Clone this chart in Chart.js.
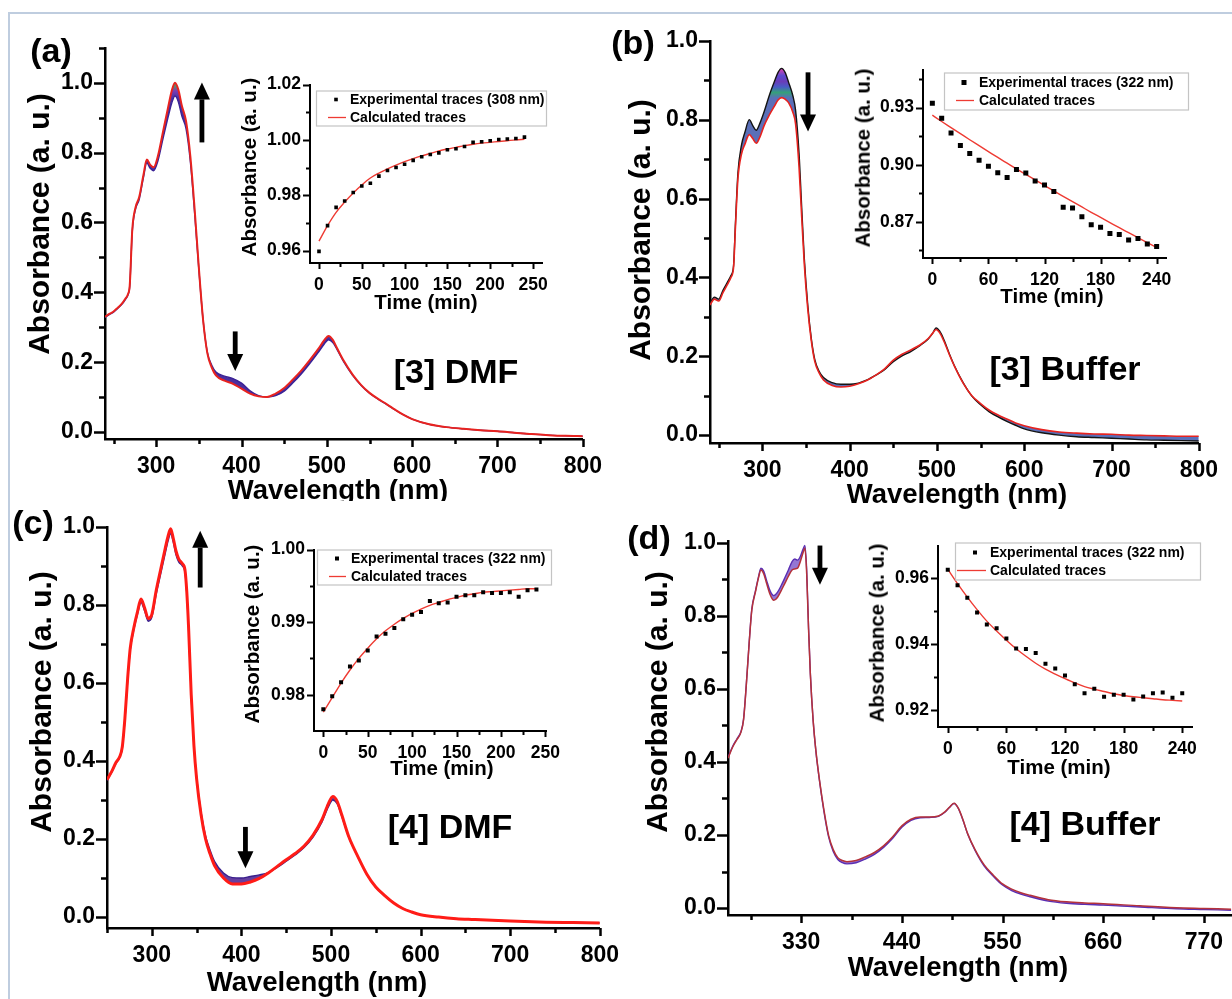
<!DOCTYPE html>
<html>
<head>
<meta charset="utf-8">
<title>UV-vis spectra and kinetics</title>
<script src="https://cdn.jsdelivr.net/npm/chart.js@4.4.1/dist/chart.umd.min.js"></script>
<style>
  html, body { margin: 0; padding: 0; background: #fff; overflow: hidden; }
  #fig { position: relative; width: 1232px; height: 999px; overflow: hidden; }
  #fig canvas { position: absolute; }
  .frame { position: absolute; left: 8px; top: 12px; width: 1300px; height: 1100px;
           border-top: 2px solid #bfcddf; border-left: 2px solid #bfcddf; }
  .txt { position: absolute; font-family: 'Liberation Sans', Arial, sans-serif; font-weight: bold;
         line-height: 1; white-space: nowrap; color: #000; transform: translate(-50%, -50%); }
  .rot { transform: translate(-50%, -50%) rotate(-90deg); }
  .panel, .tag { font-size: 34px; }
  .ytl { font-size: 30px; }
  .xtl { font-size: 27.5px; }
  .itl { font-size: 20.5px; }
  #cC { background: #fff; }
</style>
</head>
<body>
<div id="fig">
  <div class="frame"></div>
  <canvas id="cA"></canvas>
  <canvas id="cB"></canvas>
  <div class="txt xtl" style="left:338px; top:490px">Wavelength (nm)</div>
  <div class="txt xtl" style="left:957px; top:494px">Wavelength (nm)</div>
  <canvas id="cC"></canvas>
  <canvas id="cD"></canvas>
  <canvas id="iA"></canvas>
  <canvas id="iB"></canvas>
  <canvas id="iC"></canvas>
  <canvas id="iD"></canvas>

  <div class="txt ytl rot" style="left:39px; top:224px">Absorbance (a. u.)</div>
  <div class="txt ytl rot" style="left:640px; top:230px">Absorbance (a. u.)</div>
  <div class="txt ytl rot" style="left:41px; top:702px">Absorbance (a. u.)</div>
  <div class="txt ytl rot" style="left:657px; top:702px">Absorbance (a. u.)</div>
  <div class="txt xtl" style="left:317px; top:982px">Wavelength (nm)</div>
  <div class="txt xtl" style="left:958px; top:967px">Wavelength (nm)</div>

  <div class="txt itl rot" style="left:249px; top:167px">Absorbance (a. u.)</div>
  <div class="txt itl" style="left:426px; top:302px">Time (min)</div>
  <div class="txt itl rot" style="left:863px; top:158px">Absorbance (a. u.)</div>
  <div class="txt itl" style="left:1052px; top:296px">Time (min)</div>
  <div class="txt itl rot" style="left:252px; top:634px">Absorbance (a. u.)</div>
  <div class="txt itl" style="left:442px; top:768px">Time (min)</div>
  <div class="txt itl rot" style="left:877px; top:633px">Absorbance (a. u.)</div>
  <div class="txt itl" style="left:1059px; top:767px">Time (min)</div>

  <div class="txt panel" style="left:51px; top:50px">(a)</div>
  <div class="txt panel" style="left:633px; top:42px">(b)</div>
  <div class="txt panel" style="left:33px; top:522px">(c)</div>
  <div class="txt panel" style="left:649px; top:537px">(d)</div>
  <div class="txt tag" style="left:456px; top:371px">[3] DMF</div>
  <div class="txt tag" style="left:1065px; top:368px">[3] Buffer</div>
  <div class="txt tag" style="left:450px; top:826px">[4] DMF</div>
  <div class="txt tag" style="left:1085px; top:823px">[4] Buffer</div>
</div>

<script>
// ---- spectra: wavelength grids (nm) and first / last scans ----
const wlA = [240,245,250,255,260,264,267,269,272,276,
  280,285,289,293,297,302,308,314,318,322,
  326,330,335,340,345,350,355,360,365,370,
  380,390,400,410,420,430,440,450,460,470,
  480,490,497,502,507,512,520,530,540,550,
  560,570,580,590,600,620,640,660,680,700,
  720,740,760,780,800];
const aLast = [0.330,0.338,0.345,0.356,0.368,0.382,0.395,0.420,0.580,0.645,
  0.672,0.735,0.780,0.765,0.758,0.790,0.860,0.930,0.975,1.000,
  0.980,0.935,0.890,0.790,0.640,0.470,0.320,0.225,0.185,0.162,
  0.147,0.138,0.124,0.110,0.102,0.100,0.110,0.126,0.150,0.176,
  0.206,0.238,0.263,0.275,0.264,0.240,0.203,0.165,0.135,0.112,
  0.095,0.080,0.064,0.049,0.037,0.022,0.014,0.009,0.005,0.002,
  -0.002,-0.006,-0.009,-0.011,-0.012];
const aFirst = [0.328,0.336,0.343,0.354,0.366,0.380,0.393,0.418,0.575,0.640,
  0.665,0.728,0.770,0.755,0.748,0.776,0.840,0.902,0.940,0.962,
  0.945,0.905,0.868,0.775,0.628,0.465,0.320,0.228,0.192,0.172,
  0.160,0.153,0.140,0.118,0.104,0.100,0.104,0.117,0.140,0.166,
  0.196,0.228,0.252,0.264,0.256,0.236,0.200,0.163,0.134,0.111,
  0.094,0.079,0.063,0.049,0.037,0.022,0.014,0.009,0.005,0.002,
  -0.002,-0.006,-0.009,-0.011,-0.012];

const wlB = [240,245,250,255,260,264,267,269,272,276,
  280,285,289,293,297,302,308,314,318,322,
  326,330,335,338,342,345,348,352,356,360,
  365,370,380,390,400,410,420,430,440,450,
  460,470,480,490,495,499,503,508,515,520,
  530,540,550,560,570,580,590,600,620,640,
  660,680,700,720,740,760,780,800];
const bLast = [0.330,0.345,0.340,0.362,0.382,0.400,0.425,0.520,0.650,0.712,
  0.738,0.762,0.752,0.740,0.755,0.785,0.812,0.835,0.850,0.856,
  0.852,0.843,0.818,0.790,0.680,0.555,0.435,0.320,0.240,0.187,
  0.158,0.140,0.126,0.122,0.124,0.130,0.139,0.152,0.168,0.190,
  0.205,0.216,0.228,0.245,0.258,0.268,0.260,0.238,0.200,0.175,
  0.132,0.100,0.080,0.063,0.051,0.041,0.031,0.024,0.014,0.008,
  0.005,0.003,0.002,0.000,-0.001,-0.002,-0.003,-0.003];
const bFirst = [0.335,0.350,0.345,0.368,0.388,0.405,0.430,0.530,0.665,0.735,
  0.768,0.800,0.785,0.773,0.790,0.820,0.862,0.898,0.920,0.930,
  0.920,0.895,0.860,0.825,0.715,0.580,0.450,0.330,0.246,0.192,
  0.162,0.146,0.133,0.129,0.129,0.132,0.140,0.152,0.166,0.186,
  0.201,0.212,0.226,0.244,0.258,0.272,0.264,0.242,0.202,0.176,
  0.133,0.099,0.077,0.059,0.046,0.035,0.025,0.016,0.006,0.000,
  -0.004,-0.006,-0.008,-0.010,-0.012,-0.013,-0.014,-0.015];

const wlC = [250,255,260,264,267,270,273,276,280,284,
  288,292,296,300,305,310,315,318,321,324,
  327,330,334,337,339,341,344,347,350,355,
  360,365,370,380,390,400,410,420,430,440,
  450,460,470,480,490,497,502,507,512,520,
  530,540,550,560,570,580,590,600,620,640,
  660,680,700,740,770,800];
const cLast = [0.352,0.372,0.396,0.410,0.435,0.510,0.610,0.690,0.742,0.782,
  0.815,0.792,0.765,0.775,0.838,0.892,0.945,0.975,0.995,0.970,
  0.938,0.918,0.906,0.890,0.835,0.745,0.570,0.440,0.355,0.262,
  0.200,0.162,0.132,0.100,0.085,0.085,0.090,0.099,0.113,0.130,
  0.147,0.163,0.182,0.210,0.250,0.290,0.309,0.296,0.262,0.205,
  0.155,0.110,0.077,0.055,0.036,0.022,0.013,0.006,0.000,-0.004,
  -0.006,-0.008,-0.010,-0.013,-0.014,-0.015];
const cFirst = [0.350,0.370,0.394,0.408,0.432,0.505,0.605,0.685,0.737,0.776,
  0.806,0.784,0.758,0.768,0.828,0.880,0.932,0.962,0.982,0.960,
  0.928,0.910,0.900,0.884,0.830,0.740,0.568,0.440,0.358,0.268,
  0.208,0.172,0.143,0.113,0.101,0.100,0.104,0.108,0.114,0.127,
  0.143,0.159,0.178,0.205,0.244,0.282,0.300,0.290,0.258,0.203,
  0.154,0.109,0.076,0.054,0.036,0.022,0.013,0.006,0.000,-0.004,
  -0.006,-0.008,-0.010,-0.013,-0.014,-0.015];

const wlD = [250,255,260,264,267,270,273,276,280,283,
  286,289,292,296,300,304,308,312,316,320,
  323,326,329,332,334,336,338,340,343,346,
  350,355,360,365,370,375,380,390,400,410,
  420,430,440,450,460,470,480,487,492,497,
  502,507,512,520,530,540,550,560,570,580,
  600,620,640,660,700,740,770,800];
const dLast = [0.410,0.440,0.462,0.480,0.515,0.610,0.720,0.815,0.865,0.900,
  0.925,0.915,0.890,0.858,0.842,0.850,0.868,0.888,0.908,0.925,
  0.928,0.930,0.948,0.972,0.985,0.915,0.765,0.640,0.515,0.432,
  0.350,0.266,0.198,0.160,0.138,0.130,0.127,0.130,0.140,0.152,
  0.170,0.195,0.225,0.243,0.249,0.249,0.252,0.263,0.276,0.287,
  0.272,0.240,0.203,0.160,0.118,0.090,0.066,0.052,0.042,0.035,
  0.023,0.017,0.014,0.012,0.006,0.001,-0.001,-0.003];
const dFirst = [0.412,0.442,0.464,0.482,0.517,0.612,0.722,0.818,0.868,0.903,
  0.930,0.922,0.898,0.868,0.855,0.864,0.882,0.903,0.925,0.948,
  0.955,0.952,0.962,0.982,0.992,0.925,0.770,0.642,0.515,0.430,
  0.348,0.262,0.194,0.155,0.133,0.124,0.121,0.124,0.134,0.147,
  0.166,0.191,0.221,0.240,0.247,0.248,0.251,0.262,0.275,0.286,
  0.271,0.239,0.202,0.158,0.115,0.087,0.063,0.048,0.038,0.031,
  0.019,0.013,0.010,0.008,0.003,-0.002,-0.004,-0.006];

// ---- kinetics at the band maximum ----
const timeMin = [0,10,20,30,40,50,60,70,80,90,100,110,120,130,140,150,160,170,180,190,200,210,220,230,240];
const aExp = [0.9597,0.9690,0.9756,0.9779,0.9810,0.9833,0.9843,0.9869,0.9889,0.9900,0.9912,0.9926,0.9939,
  0.9947,0.9953,0.9964,0.9968,0.9976,0.9991,0.9993,0.9997,1.0001,1.0003,1.0005,1.0010];
const aFit = [0.9634,0.9690,0.9738,0.9775,0.9808,0.9837,0.9862,0.9880,0.9895,0.9909,0.9921,0.9932,0.9942,
  0.9951,0.9960,0.9967,0.9973,0.9979,0.9984,0.9988,0.9991,0.9994,0.9997,1.0000,1.0002];
const bExp = [0.9323,0.9244,0.9166,0.9101,0.9059,0.9024,0.8992,0.8958,0.8933,0.8975,0.8956,0.8914,0.8894,
  0.8859,0.8776,0.8773,0.8726,0.8684,0.8672,0.8639,0.8634,0.8605,0.8612,0.8583,0.8570];
const bFit = [0.9260,0.9227,0.9195,0.9163,0.9131,0.9100,0.9069,0.9038,0.9008,0.8978,0.8949,0.8920,0.8891,
  0.8862,0.8834,0.8806,0.8778,0.8750,0.8723,0.8696,0.8669,0.8643,0.8617,0.8591,0.8566];
const cExp = [0.9780,0.9798,0.9817,0.9839,0.9847,0.9861,0.9880,0.9884,0.9892,0.9904,0.9910,0.9914,0.9929,
  0.9926,0.9927,0.9935,0.9937,0.9937,0.9941,0.9940,0.9940,0.9941,0.9935,0.9944,0.9945];
const cFit = [0.9776,0.9796,0.9816,0.9834,0.9850,0.9864,0.9877,0.9888,0.9897,0.9905,0.9912,0.9918,0.9923,
  0.9927,0.9931,0.9934,0.9937,0.9939,0.9941,0.9942,0.9943,0.9944,0.9945,0.9946,0.9946];
const dExp = [0.9626,0.9579,0.9541,0.9496,0.9460,0.9448,0.9417,0.9387,0.9385,0.9373,0.9340,0.9326,0.9305,
  0.9278,0.9251,0.9264,0.9240,0.9246,0.9246,0.9232,0.9241,0.9251,0.9253,0.9237,0.9251];
const dFit = [0.9628,0.9584,0.9543,0.9505,0.9470,0.9440,0.9412,0.9386,0.9363,0.9342,0.9324,0.9309,0.9295,
  0.9282,0.9271,0.9263,0.9256,0.9249,0.9244,0.9240,0.9237,0.9234,0.9231,0.9229,0.9227];

// ---- tick values ----
const absTicks = [0, 0.2, 0.4, 0.6, 0.8, 1.0];
const absMinor = [0.1, 0.3, 0.5, 0.7, 0.9];
const absMinorA = [0.1, 0.3, 0.5, 0.7, 0.9, 1.1];
const wlTicks = [300, 400, 500, 600, 700, 800];
const wlMinor = [250, 350, 450, 550, 650, 750];
const wlTicksD = [330, 440, 550, 660, 770];
const wlMinorD = [275, 385, 495, 605, 715];
const t50 = [0, 50, 100, 150, 200, 250];
const t50Minor = [25, 75, 125, 175, 225];
const t60 = [0, 60, 120, 180, 240];
const t60Minor = [30, 90, 150, 210];

const FONT = "'Liberation Sans', Arial, Helvetica, sans-serif";
Chart.defaults.font.family = FONT;
Chart.defaults.font.weight = 'bold';
Chart.defaults.color = '#000';
Chart.defaults.animation = false;
Chart.defaults.events = [];
Chart.defaults.plugins.legend.display = false;
Chart.defaults.plugins.tooltip.enabled = false;

function pairs(xs, ys) {
  return xs.map((x, i) => ({ x: x, y: ys[i] }));
}

// size the canvas so that the plot area lands on g.x, g.y with size g.w x g.h
function place(id, g) {
  const c = document.getElementById(id);
  c.width = g.axisW + g.w + g.padR;
  c.height = g.padT + g.h + g.axisH;
  c.style.left = (g.x - g.axisW) + 'px';
  c.style.top = (g.y - g.padT) + 'px';
  return c;
}

// band colour that runs through several hues between two absorbance levels
function bandGradient(hi, lo, stops) {
  return ctx => {
    const chart = ctx.chart;
    if (!chart.chartArea || !chart.scales.y) return stops[stops.length - 1];
    const y = chart.scales.y;
    const g = chart.ctx.createLinearGradient(0, y.getPixelForValue(hi), 0, y.getPixelForValue(lo));
    stops.forEach((c, i) => g.addColorStop(i / (stops.length - 1), c));
    return g;
  };
}

// outward tick marks, long for labelled ticks and short for the minor ones
const tickMarks = {
  id: 'tickMarks',
  afterDraw(chart, args, o) {
    const ctx = chart.ctx;
    ctx.save();
    ctx.strokeStyle = '#000';
    ctx.lineWidth = o.width;
    ['x', 'y'].forEach(id => {
      const s = chart.scales[id];
      const spec = o[id];
      const list = spec.major.map(v => [v, spec.len[0]]).concat(spec.minor.map(v => [v, spec.len[1]]));
      list.forEach(([v, len]) => {
        const p = Math.round(s.getPixelForValue(v)) + 0.5;
        ctx.beginPath();
        if (id === 'x') { ctx.moveTo(p, s.top); ctx.lineTo(p, s.top + len); }
        else { ctx.moveTo(s.right, p); ctx.lineTo(s.right - len, p); }
        ctx.stroke();
      });
    });
    ctx.restore();
  }
};

// trend arrows, placed in data units
const arrows = {
  id: 'arrows',
  afterDatasetsDraw(chart, args, o) {
    const { ctx, scales: { x, y } } = chart;
    ctx.save();
    ctx.fillStyle = '#000';
    o.list.forEach(a => {
      const px = x.getPixelForValue(a.x);
      const p0 = y.getPixelForValue(a.from);
      const p1 = y.getPixelForValue(a.to);
      const dir = Math.sign(p1 - p0);
      const head = 17, half = 8;
      const base = p1 - dir * head;
      ctx.fillRect(px - 2.4, Math.min(p0, base), 4.8, Math.abs(base - p0) + 1);
      ctx.beginPath();
      ctx.moveTo(px - half, base);
      ctx.lineTo(px + half, base);
      ctx.lineTo(px, p1);
      ctx.closePath();
      ctx.fill();
    });
    ctx.restore();
  }
};

// boxed legend sitting in the top of the inset
const boxLegend = {
  id: 'boxLegend',
  afterDraw(chart, args, o) {
    const { ctx, chartArea: ca } = chart;
    const x = ca.left + o.left, y = ca.top + o.top;
    ctx.save();
    ctx.fillStyle = '#fff';
    ctx.fillRect(x, y, o.width, o.height);
    ctx.strokeStyle = '#c4c4c4';
    ctx.lineWidth = 1.2;
    ctx.strokeRect(x + 0.5, y + 0.5, o.width, o.height);
    ctx.font = 'bold 14px ' + FONT;
    ctx.textBaseline = 'middle';
    ctx.fillStyle = '#000';
    const [exp, fit] = chart.data.datasets;
    const r1 = y + o.rows[0], r2 = y + o.rows[1];
    ctx.fillRect(x + 20 - o.mark / 2, r1 - o.mark / 2, o.mark, o.mark);
    ctx.fillText(exp.label, x + o.textX, r1 + 1);
    ctx.strokeStyle = fit.borderColor;
    ctx.lineWidth = 1.3;
    ctx.beginPath();
    ctx.moveTo(x + o.line[0], r2);
    ctx.lineTo(x + o.line[1], r2);
    ctx.stroke();
    ctx.fillText(fit.label, x + o.textX, r2 + 1);
    ctx.restore();
  }
};

function scaleOpts(g, range, ticks, fmt, fontSize, pad, horizontal) {
  return {
    type: 'linear',
    min: range[0],
    max: range[1],
    afterBuildTicks: a => { a.ticks = ticks.map(v => ({ value: v })); },
    afterFit: s => { if (horizontal) s.height = g.axisH; else s.width = g.axisW; },
    grid: { display: false, drawTicks: false },
    border: { display: true, color: '#000', width: g.lw },
    ticks: { font: { size: fontSize }, padding: pad, maxRotation: 0, autoSkip: false, callback: fmt }
  };
}

function spectrum(id, g, wl, last, first, look, xr, yr, xt, xm, ym, arrowList) {
  return new Chart(place(id, g), {
    type: 'line',
    data: {
      datasets: [
        { data: pairs(wl, last), borderColor: look.last, borderWidth: look.lastW, pointRadius: 0,
          cubicInterpolationMode: 'monotone', fill: false },
        { data: pairs(wl, first), borderColor: look.first, borderWidth: 1.4, pointRadius: 0,
          cubicInterpolationMode: 'monotone', fill: '-1', backgroundColor: look.band }
      ]
    },
    options: {
      responsive: false,
      devicePixelRatio: 1,
      layout: { padding: { top: g.padT, right: g.padR, left: 0, bottom: 0 } },
      scales: {
        x: scaleOpts(g, xr, xt, v => String(v), 23, 14, true),
        y: scaleOpts(g, yr, absTicks, v => v.toFixed(1), 23, 12, false)
      },
      plugins: {
        tickMarks: { width: g.lw, x: { major: xt, minor: xm, len: [8, 5] }, y: { major: absTicks, minor: ym, len: [11, 6] } },
        arrows: { list: arrowList }
      }
    },
    plugins: [tickMarks, arrows]
  });
}

function kinetics(id, g, exp, fit, probe, mark, yr, yt, ym, xr, xt, xm, digits, legend) {
  return new Chart(place(id, g), {
    type: 'line',
    data: {
      datasets: [
        { label: 'Experimental traces (' + probe + ' nm)', data: pairs(timeMin, exp), showLine: false,
          pointStyle: 'rect', pointRadius: mark / Math.SQRT2, pointBackgroundColor: '#000', pointBorderWidth: 0 },
        { label: 'Calculated traces', data: pairs(timeMin, fit), borderColor: '#ee3b33', borderWidth: 1.4,
          pointRadius: 0, cubicInterpolationMode: 'monotone' }
      ]
    },
    options: {
      responsive: false,
      devicePixelRatio: 1,
      layout: { padding: { top: g.padT, right: g.padR, left: 0, bottom: 0 } },
      scales: {
        x: scaleOpts(g, xr, xt, v => String(v), 17.5, 12, true),
        y: scaleOpts(g, yr, yt, v => v.toFixed(digits), 17.5, 9, false)
      },
      plugins: {
        tickMarks: { width: g.lw, x: { major: xt, minor: xm, len: [6, 4] }, y: { major: yt, minor: ym, len: [7, 4] } },
        boxLegend: Object.assign({ mark: mark }, legend)
      }
    },
    plugins: [tickMarks, boxLegend]
  });
}

// main panels
spectrum('cA', { x: 105, y: 42, w: 488, h: 397, axisW: 83, axisH: 67, padT: 20, padR: 23, lw: 2.5 },
  wlA, aLast, aFirst,
  { last: '#e8231f', lastW: 2, first: '#3b2396',
    band: bandGradient(0.99, 0.95, ['#5f8a6a', '#7a3cb4', '#5a36a8', '#4b2fa0']) },
  [240, 800], [-0.02, 1.1], wlTicks, wlMinor, absMinorA,
  [{ x: 353.6, from: 0.832, to: 1.001 }, { x: 392.6, from: 0.288, to: 0.175 }]);

spectrum('cB', { x: 710, y: 35, w: 498, h: 408, axisW: 87, axisH: 68, padT: 20, padR: 24, lw: 2.5 },
  wlB, bLast, bFirst,
  { last: '#e8231f', lastW: 1.6, first: '#141414',
    band: bandGradient(0.925, 0.855, ['#c044b8', '#5b49d0', '#6a3cb8', '#4a5cc6', '#35a07a', '#5a6fb8']) },
  [240, 800], [-0.02, 1.0], wlTicks, wlMinor, absMinor,
  [{ x: 352.3, from: 0.92, to: 0.77 }]);

spectrum('cC', { x: 107, y: 519, w: 502, h: 409, axisW: 83, axisH: 71, padT: 18, padR: 24, lw: 2.5 },
  wlC, cLast, cFirst, { last: '#ff1c17', lastW: 3, first: '#3a1f8c', band: 'rgba(84,42,150,0.9)' },
  [250, 800], [-0.028, 1.0], wlTicks, wlMinor, absMinor,
  [{ x: 354, from: 0.847, to: 0.99 }, { x: 404.5, from: 0.231, to: 0.125 }]);

spectrum('cD', { x: 728, y: 533, w: 509, h: 382, axisW: 88, axisH: 68, padT: 18, padR: 0, lw: 2.5 },
  wlD, dLast, dFirst, { last: '#b5323a', lastW: 1.5, first: '#5b2fb3', band: 'rgba(112,72,196,0.75)' },
  [250, 800], [-0.019, 1.005], wlTicksD, wlMinorD, absMinor,
  [{ x: 350.5, from: 0.992, to: 0.885 }]);

// insets
kinetics('iA', { x: 310, y: 77, w: 232, h: 186, axisW: 62, axisH: 40, padT: 12, padR: 20, lw: 2 },
  aExp, aFit, 308, 3.6, [0.9555, 1.02], [0.96, 0.98, 1.00, 1.02], [0.97, 0.99, 1.01],
  [-10.5, 260.5], t50, t50Minor, 2,
  { left: 6, top: 6, width: 230, height: 35, rows: [9, 27], textX: 34, line: [12, 30] });

kinetics('iB', { x: 923, y: 62, w: 243, h: 196, axisW: 60, axisH: 40, padT: 12, padR: 24, lw: 2 },
  bExp, bFit, 322, 5, [0.851, 0.95], [0.87, 0.90, 0.93], [0.855, 0.885, 0.915, 0.945],
  [-10, 250], t60, t60Minor, 2,
  { left: 21, top: 3, width: 244, height: 37, rows: [10, 28], textX: 35, line: [12, 30] });

kinetics('iC', { x: 314, y: 542, w: 234, h: 189, axisW: 60, axisH: 40, padT: 12, padR: 24, lw: 2 },
  cExp, cFit, 322, 4, [0.975, 1.0], [0.98, 0.99, 1.00], [0.985, 0.995],
  [-10.5, 251], t50, t50Minor, 2,
  { left: 3, top: 0, width: 234, height: 35, rows: [9, 27], textX: 34, line: [12, 29] });

kinetics('iD', { x: 938, y: 538, w: 254, h: 189, axisW: 60, axisH: 40, padT: 12, padR: 22, lw: 2 },
  dExp, dFit, 322, 4, [0.9148, 0.970], [0.92, 0.94, 0.96], [0.93, 0.95],
  [-10, 250], t60, t60Minor, 2,
  { left: 17, top: -3, width: 245, height: 37, rows: [10, 28], textX: 35, line: [2, 31] });
</script>
</body>
</html>
